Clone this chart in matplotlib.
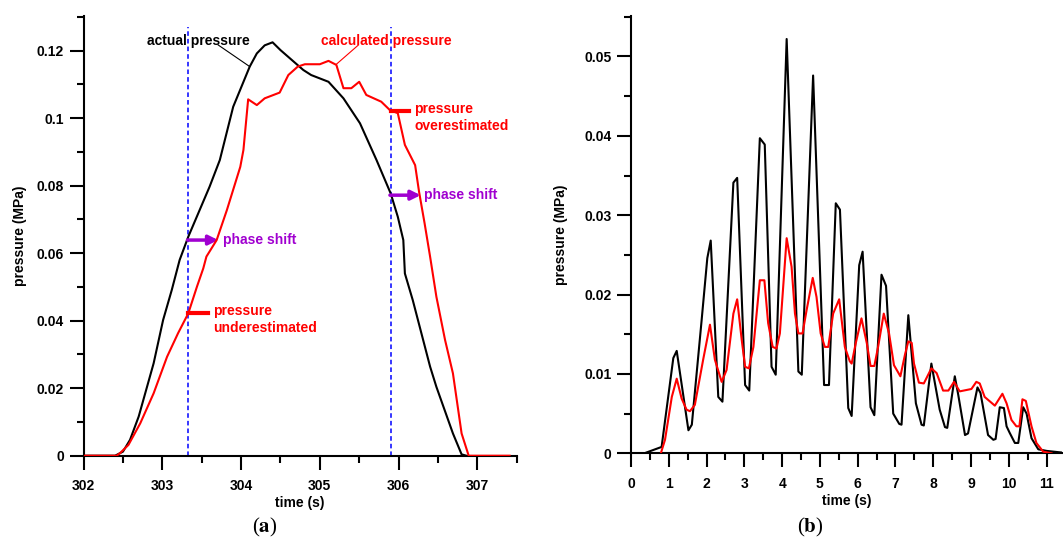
import numpy as np
import matplotlib.pyplot as plt
from matplotlib.ticker import MultipleLocator, FuncFormatter

plt.rcParams['font.family'] = ['Liberation Sans', 'DejaVu Sans']
plt.rcParams['font.weight'] = 'bold'
plt.rcParams['mathtext.fontset'] = 'stix'

# panel (a): single pressure pulse
ta_act = [302.0, 302.40, 302.50, 302.59, 302.70, 302.89, 303.01, 303.12, 303.22, 303.33,
          303.60, 303.73, 303.90, 304.11, 304.20, 304.30, 304.40, 304.50, 304.79, 304.89,
          305.11, 305.30, 305.51, 305.72, 305.90, 305.99, 306.06, 306.08, 306.18, 306.40,
          306.48, 306.69, 306.80, 306.86]
pa_act = [0.0, 0.0, 0.0012, 0.0047, 0.0116, 0.0274, 0.0402, 0.0491, 0.0580, 0.0649,
          0.0797, 0.0876, 0.1034, 0.1153, 0.1192, 0.1216, 0.1225, 0.1202, 0.1143, 0.1128,
          0.1108, 0.1059, 0.0985, 0.0876, 0.0777, 0.0708, 0.0639, 0.0540, 0.0461, 0.0264,
          0.0204, 0.0066, 0.0004, 0.0]

ta_calc = [302.0, 302.42, 302.46, 302.57, 302.72, 302.89, 303.06, 303.20, 303.33, 303.44,
           303.52, 303.56, 303.69, 303.82, 303.99, 304.03, 304.09, 304.20, 304.30, 304.49,
           304.60, 304.72, 304.81, 305.00, 305.11, 305.21, 305.30, 305.40, 305.50, 305.59,
           305.78, 305.89, 305.99, 306.08, 306.21, 306.26, 306.33, 306.40, 306.48, 306.59,
           306.69, 306.80, 306.89, 307.41]
pa_calc = [0.0, 0.0, 0.0007, 0.0032, 0.0096, 0.0185, 0.0293, 0.0363, 0.0422, 0.0501,
           0.0555, 0.0590, 0.0639, 0.0728, 0.0856, 0.0906, 0.1056, 0.1039, 0.1059, 0.1076,
           0.1128, 0.1153, 0.1160, 0.1160, 0.1170, 0.1158, 0.1089, 0.1089, 0.1108, 0.1069,
           0.1049, 0.1024, 0.1015, 0.0921, 0.0861, 0.0782, 0.0689, 0.0590, 0.0471, 0.0343,
           0.0244, 0.0066, 0.0, 0.0]

# panel (b): oscillating pressure
tb_act = [0.41, 0.81, 1.12, 1.21, 1.52, 1.61, 1.87, 2.02, 2.11, 2.31, 2.42, 2.71, 2.81,
          3.02, 3.13, 3.41, 3.54, 3.72, 3.83, 4.12, 4.43, 4.52, 4.82, 5.11, 5.24, 5.42,
          5.53, 5.75, 5.84, 6.04, 6.13, 6.34, 6.44, 6.63, 6.75, 6.94, 7.10, 7.16, 7.34,
          7.54, 7.69, 7.75, 7.95, 8.17, 8.31, 8.37, 8.57, 8.66, 8.84, 8.92, 9.17, 9.25,
          9.45, 9.59, 9.65, 9.76, 9.87, 9.94, 10.02, 10.16, 10.25, 10.38, 10.47, 10.60,
          10.78, 11.0, 11.39]
pb_act = [0.0001, 0.0008, 0.0120, 0.0129, 0.0029, 0.0036, 0.0168, 0.0246, 0.0268, 0.0071,
          0.0065, 0.0341, 0.0347, 0.0086, 0.0079, 0.0397, 0.0389, 0.0109, 0.0099, 0.0522,
          0.0103, 0.0099, 0.0476, 0.0086, 0.0086, 0.0315, 0.0307, 0.0057, 0.0047, 0.0237,
          0.0254, 0.0058, 0.0048, 0.0225, 0.0211, 0.0050, 0.0037, 0.0036, 0.0174, 0.0063,
          0.0036, 0.0035, 0.0113, 0.0055, 0.0033, 0.0032, 0.0097, 0.0074, 0.0023, 0.0025,
          0.0083, 0.0076, 0.0023, 0.0017, 0.0018, 0.0058, 0.0057, 0.0034, 0.0026, 0.0013,
          0.0013, 0.0058, 0.0050, 0.0019, 0.0005, 0.0003, 0.0001]

tb_calc = [0.79, 0.90, 1.08, 1.21, 1.34, 1.47, 1.56, 1.69, 1.91, 2.09, 2.22, 2.40, 2.53,
           2.71, 2.81, 2.93, 3.02, 3.12, 3.24, 3.41, 3.53, 3.63, 3.75, 3.85, 3.94, 4.12,
           4.25, 4.34, 4.43, 4.54, 4.65, 4.81, 4.91, 5.02, 5.13, 5.22, 5.35, 5.51, 5.66,
           5.79, 5.84, 5.95, 6.10, 6.24, 6.34, 6.44, 6.54, 6.69, 6.83, 6.96, 7.13, 7.25,
           7.34, 7.43, 7.49, 7.62, 7.75, 7.95, 8.09, 8.26, 8.40, 8.55, 8.70, 9.01, 9.14,
           9.23, 9.36, 9.63, 9.83, 9.94, 10.07, 10.20, 10.28, 10.36, 10.45, 10.60, 10.73,
           10.91, 11.13]
pb_calc = [0.0, 0.0017, 0.0071, 0.0094, 0.0069, 0.0055, 0.0053, 0.0061, 0.0118, 0.0162,
           0.0118, 0.0090, 0.0105, 0.0176, 0.0194, 0.0143, 0.0109, 0.0107, 0.0134, 0.0218,
           0.0218, 0.0164, 0.0134, 0.0132, 0.0151, 0.0271, 0.0235, 0.0176, 0.0151, 0.0151,
           0.0181, 0.0221, 0.0197, 0.0151, 0.0134, 0.0134, 0.0176, 0.0194, 0.0134, 0.0116,
           0.0113, 0.0139, 0.0170, 0.0139, 0.0110, 0.0110, 0.0134, 0.0176, 0.0151, 0.0111,
           0.0097, 0.0124, 0.0141, 0.0139, 0.0113, 0.0089, 0.0088, 0.0107, 0.0101, 0.0079,
           0.0079, 0.0090, 0.0078, 0.0081, 0.0090, 0.0088, 0.0071, 0.0060, 0.0075, 0.0063,
           0.0042, 0.0034, 0.0034, 0.0068, 0.0066, 0.0034, 0.0013, 0.0002, 0.0]

shift_lines = [303.33, 305.90]

RED = '#FF0000'
PURPLE = '#A000D0'
fs = 10


def style_axes(ax, ylpad):
    for s in ['top', 'right']:
        ax.spines[s].set_visible(False)
    for s in ['left', 'bottom']:
        ax.spines[s].set_linewidth(1.5)
    ax.tick_params(which='major', length=10, width=1.5, labelsize=fs)
    ax.tick_params(which='minor', length=5, width=1.5)
    ax.tick_params(axis='x', which='major', pad=7)
    ax.tick_params(axis='y', which='major', pad=4)
    ax.yaxis.set_major_formatter(FuncFormatter(lambda v, p: '%g' % round(v, 4)))
    ax.set_ylabel('pressure (MPa)', fontsize=fs, fontweight='bold', labelpad=ylpad)
    ax.set_xlabel('time (s)', fontsize=fs, fontweight='bold', labelpad=2)


fig = plt.figure(figsize=(10.63, 5.40), dpi=100)

# ---- (a)
ax = fig.add_axes([0.0786, 0.1561, 0.4075, 0.8143])
ax.plot(ta_act, pa_act, color='black', lw=1.5, zorder=3)
ax.plot(ta_calc, pa_calc, color=RED, lw=1.5, zorder=4)
for xv in shift_lines:
    ax.plot([xv, xv], [0, 0.1271], color='blue', lw=1.1, ls=(0, (3, 2)), zorder=2)
ax.set_xlim(302, 307.5)
ax.set_ylim(0, 0.1303)
ax.xaxis.set_major_locator(MultipleLocator(1))
ax.xaxis.set_minor_locator(MultipleLocator(0.5))
ax.yaxis.set_major_locator(MultipleLocator(0.02))
ax.yaxis.set_minor_locator(MultipleLocator(0.01))
style_axes(ax, 7)

ax.text(302.80, 0.123, 'actual pressure', fontsize=fs, fontweight='bold', va='center')
ax.plot([303.71, 304.11], [0.1217, 0.1153], color='black', lw=0.8)
ax.text(305.01, 0.123, 'calculated pressure', fontsize=fs, fontweight='bold',
        color=RED, va='center')
ax.plot([305.49, 305.21], [0.1217, 0.1160], color=RED, lw=0.8)

ax.plot([305.91, 306.13], [0.1021, 0.1021], color=RED, lw=3)
ax.text(306.20, 0.1048, 'pressure\noverestimated', fontsize=fs, fontweight='bold',
        color=RED, va='top', ha='left', linespacing=1.3)
ax.plot([303.33, 303.58], [0.0422, 0.0422], color=RED, lw=3)
ax.text(303.65, 0.0449, 'pressure\nunderestimated', fontsize=fs, fontweight='bold',
        color=RED, va='top', ha='left', linespacing=1.3)

ax.annotate('', xy=(303.71, 0.0639), xytext=(303.32, 0.0639),
            arrowprops=dict(arrowstyle='-|>', color=PURPLE, lw=2.5, mutation_scale=14,
                            shrinkA=0, shrinkB=0))
ax.text(303.77, 0.0639, 'phase shift', fontsize=fs, fontweight='bold', color=PURPLE,
        va='center')
ax.annotate('', xy=(306.28, 0.0772), xytext=(305.89, 0.0772),
            arrowprops=dict(arrowstyle='-|>', color=PURPLE, lw=2.5, mutation_scale=14,
                            shrinkA=0, shrinkB=0))
ax.text(306.32, 0.0772, 'phase shift', fontsize=fs, fontweight='bold', color=PURPLE,
        va='center')

# ---- (b)
bx = fig.add_axes([0.5936, 0.1606, 0.4052, 0.8098])
bx.plot(tb_act, pb_act, color='black', lw=1.5, zorder=3)
bx.plot(tb_calc, pb_calc, color=RED, lw=1.5, zorder=4)
bx.set_xlim(0, 11.4)
bx.set_ylim(0, 0.0551)
bx.xaxis.set_major_locator(MultipleLocator(1))
bx.xaxis.set_minor_locator(MultipleLocator(0.5))
bx.yaxis.set_major_locator(MultipleLocator(0.01))
bx.yaxis.set_minor_locator(MultipleLocator(0.005))
style_axes(bx, 12)

fig.text(265 / 1063, 1 - 527 / 540, r'($\mathbf{a}$)', fontsize=15,
         family='Liberation Serif', fontweight='normal', ha='center', va='center')
fig.text(810 / 1063, 1 - 527 / 540, r'($\mathbf{b}$)', fontsize=15,
         family='Liberation Serif', fontweight='normal', ha='center', va='center')

fig.savefig('out.png', dpi=100)
